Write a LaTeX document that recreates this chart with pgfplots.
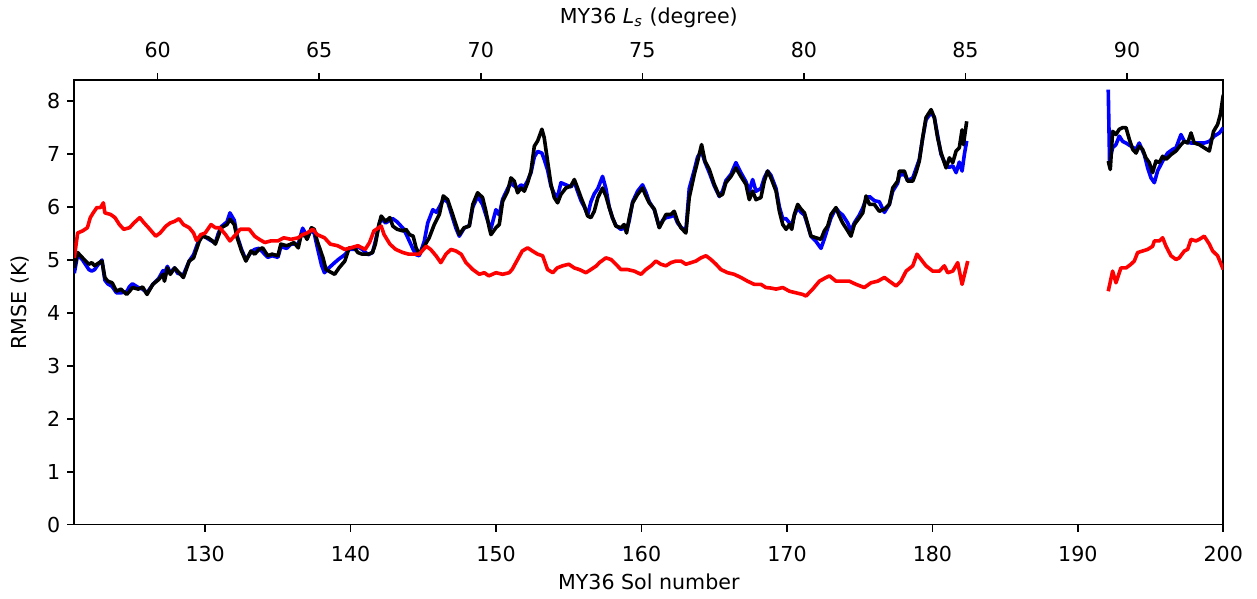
\documentclass[border=0pt]{standalone}
\usepackage{fontspec}
\setmainfont{DejaVu Sans}
\usepackage{pgfplots}
\pgfplotsset{compat=1.18}

\definecolor{rmseblue}{RGB}{0,0,255}
\definecolor{rmsered}{RGB}{255,0,0}

\pgfplotsset{
  rmse/.style={line width=1.8pt, line join=round, mark=none},
  frame/.style={
    at={(0,0)}, anchor=south west,
    scale only axis, width=574.5pt, height=222.35pt,
    ymin=0, ymax=8.4,
    tick align=outside, major tick length=3.5pt,
    axis line style={line width=0.8pt},
    every tick/.style={line width=0.8pt, black},
    tick label style={font=\fontsize{10.3}{12}\selectfont},
    label style={font=\fontsize{10.3}{12}\selectfont},
    /pgf/number format/assume math mode=true,
  },
}

\begin{document}
\begin{tikzpicture}
\begin{axis}[frame,
  xmin=121, xmax=200,
  xtick={130,140,...,200}, ytick={0,1,...,8},
  xtick pos=lower, ytick pos=left,
  xticklabel style={yshift=-3.5pt},
  xlabel={MY36 Sol number}, ylabel={RMSE (K)},
  xlabel style={at={(axis description cs:0.5,0)}, anchor=center, yshift=-28.6pt},
  ylabel style={at={(axis description cs:0,0.5)}, anchor=center, rotate=0, xshift=0pt, yshift=27pt},
]
% blue run, before and after the data gap
\addplot[rmse, rmseblue] coordinates {
(121.0,4.75) (121.23,5.1) (121.57,5.0) (122.0,4.82) (122.2,4.79) (122.4,4.82) (122.6,4.9) (122.9,5.0)
(123.1,4.62) (123.3,4.55) (123.6,4.5) (123.9,4.38) (124.2,4.38) (124.6,4.4) (124.8,4.5) (125.0,4.55)
(125.4,4.48) (125.7,4.45) (126.0,4.38) (126.4,4.54) (126.8,4.65) (127.1,4.8) (127.2,4.75) (127.4,4.88)
(127.6,4.76) (127.9,4.85) (128.1,4.75) (128.5,4.72) (128.9,4.98) (129.2,5.1) (129.6,5.4) (129.8,5.47)
(130.2,5.4) (130.5,5.35) (130.7,5.33) (130.9,5.5) (131.1,5.63) (131.5,5.72) (131.7,5.89) (132.0,5.75)
(132.2,5.45) (132.5,5.2) (132.8,5.0) (133.15,5.15) (133.4,5.2) (133.7,5.22) (133.95,5.15) (134.3,5.05)
(134.6,5.08) (135.0,5.05) (135.2,5.25) (135.6,5.22) (135.9,5.3) (136.1,5.3) (136.4,5.3) (136.6,5.5)
(136.7,5.6) (136.9,5.5) (137.0,5.4) (137.3,5.58) (137.5,5.5) (137.7,5.25) (138.0,4.9) (138.2,4.76)
(138.5,4.85) (138.9,4.95) (139.2,5.02) (139.6,5.1) (139.9,5.2) (140.25,5.2) (140.5,5.25) (140.8,5.2)
(141.2,5.1) (141.5,5.14) (141.7,5.35) (141.95,5.67) (142.1,5.78) (142.4,5.7) (142.7,5.75) (142.9,5.78)
(143.2,5.72) (143.6,5.6) (143.8,5.5) (144.05,5.35) (144.3,5.2) (144.5,5.1) (144.72,5.08) (145.06,5.35)
(145.3,5.7) (145.65,5.95) (145.9,5.9) (146.1,6.0) (146.37,6.14) (146.67,6.1) (147.01,5.8) (147.24,5.6)
(147.47,5.45) (147.8,5.6) (148.16,5.65) (148.4,6.0) (148.73,6.2) (149.07,6.05) (149.3,5.85) (149.53,5.65)
(149.65,5.6) (149.99,5.95) (150.22,5.85) (150.45,6.15) (150.8,6.35) (151.02,6.45) (151.25,6.4) (151.48,6.35)
(151.71,6.42) (151.94,6.38) (152.17,6.5) (152.4,6.65) (152.63,6.95) (152.86,7.05) (153.15,7.02) (153.31,6.9)
(153.54,6.7) (153.77,6.4) (154.0,6.25) (154.23,6.2) (154.46,6.46) (154.8,6.42) (155.15,6.38) (155.38,6.48)
(155.6,6.3) (155.84,6.12) (156.07,6.0) (156.3,5.85) (156.52,6.1) (156.75,6.25) (157.0,6.35) (157.32,6.58)
(157.55,6.35) (157.78,6.0) (158.0,5.8) (158.24,5.65) (158.58,5.58) (158.81,5.6) (158.97,5.55) (159.16,5.75)
(159.39,6.1) (159.73,6.3) (160.07,6.42) (160.3,6.28) (160.53,6.1) (160.88,5.95) (161.22,5.62) (161.45,5.75)
(161.68,5.8) (162.02,5.82) (162.25,5.85) (162.48,5.7) (162.71,5.62) (163.05,5.55) (163.28,6.35) (163.63,6.7)
(163.86,6.95) (164.13,7.05) (164.36,6.85) (164.66,6.65) (165.0,6.4) (165.35,6.2) (165.57,6.3) (165.8,6.5)
(166.15,6.62) (166.49,6.84) (166.83,6.65) (167.18,6.48) (167.41,6.3) (167.64,6.52) (167.87,6.3) (168.21,6.35)
(168.44,6.55) (168.67,6.68) (168.9,6.6) (169.25,6.35) (169.48,6.0) (169.71,5.78) (169.94,5.78) (170.17,5.7)
(170.33,5.65) (170.51,5.85) (170.74,5.98) (170.97,5.9) (171.2,5.85) (171.43,5.65) (171.65,5.45) (172.0,5.35)
(172.34,5.22) (172.57,5.4) (172.8,5.6) (173.03,5.8) (173.37,5.98) (173.6,5.9) (173.83,5.85) (174.18,5.7)
(174.4,5.55) (174.63,5.7) (174.98,5.85) (175.21,5.98) (175.44,6.15) (175.67,6.2) (176.01,6.12) (176.35,6.1)
(176.7,5.9) (177.04,6.05) (177.27,6.3) (177.61,6.45) (177.73,6.6) (178.07,6.62) (178.3,6.5) (178.65,6.55)
(178.87,6.72) (179.1,6.9) (179.33,7.3) (179.56,7.65) (179.91,7.78) (180.13,7.7) (180.36,7.35) (180.59,7.0)
(180.94,6.78) (181.17,6.75) (181.4,6.78) (181.63,6.65) (181.85,6.85) (182.04,6.68) (182.2,7.0) (182.36,7.25)
};
\addplot[rmse, rmseblue] coordinates {
(192.09,8.22) (192.18,6.87) (192.39,7.12) (192.62,7.18) (192.85,7.34) (193.08,7.24) (193.31,7.21) (193.65,7.15)
(194.0,7.09) (194.22,7.21) (194.57,6.99) (194.8,6.74) (195.03,6.55) (195.26,6.46) (195.48,6.68) (195.83,6.87)
(196.17,7.02) (196.52,7.09) (196.75,7.12) (197.09,7.37) (197.32,7.24) (197.78,7.21) (198.24,7.21) (198.69,7.21)
(199.04,7.24) (199.38,7.34) (199.73,7.4) (200.0,7.5)
};
% black run
\addplot[rmse, black] coordinates {
(121.0,4.85) (121.23,5.14) (121.57,5.04) (122.0,4.92) (122.2,4.95) (122.4,4.89) (122.6,4.93) (122.9,4.98)
(123.1,4.67) (123.3,4.6) (123.6,4.57) (123.9,4.41) (124.2,4.45) (124.6,4.35) (124.8,4.41) (125.0,4.48)
(125.4,4.45) (125.7,4.49) (126.0,4.35) (126.4,4.54) (126.8,4.63) (127.1,4.73) (127.2,4.6) (127.4,4.85)
(127.6,4.73) (127.9,4.85) (128.1,4.79) (128.5,4.67) (128.9,4.98) (129.2,5.04) (129.6,5.36) (129.8,5.45)
(130.2,5.42) (130.5,5.36) (130.7,5.3) (130.9,5.45) (131.1,5.61) (131.5,5.67) (131.7,5.77) (132.0,5.67)
(132.2,5.42) (132.5,5.17) (132.8,4.98) (133.15,5.17) (133.4,5.11) (133.7,5.2) (133.95,5.23) (134.3,5.08)
(134.6,5.11) (135.0,5.08) (135.2,5.3) (135.6,5.27) (135.9,5.3) (136.1,5.33) (136.4,5.23) (136.6,5.48)
(136.9,5.45) (137.0,5.39) (137.3,5.61) (137.5,5.58) (137.7,5.36) (138.1,5.04) (138.3,4.82) (138.5,4.79)
(138.9,4.73) (139.2,4.85) (139.6,4.98) (139.9,5.23) (140.25,5.23) (140.5,5.14) (140.8,5.11) (141.2,5.11)
(141.5,5.14) (141.7,5.3) (141.95,5.67) (142.1,5.83) (142.4,5.73) (142.7,5.8) (142.9,5.64) (143.2,5.58)
(143.6,5.55) (143.8,5.58) (144.05,5.48) (144.3,5.45) (144.5,5.23) (144.72,5.11) (145.06,5.26) (145.4,5.42)
(145.75,5.67) (146.1,5.86) (146.37,6.21) (146.67,6.14) (147.01,5.86) (147.24,5.67) (147.47,5.48) (147.8,5.61)
(148.16,5.64) (148.4,6.05) (148.73,6.27) (149.07,6.18) (149.3,5.92) (149.53,5.61) (149.65,5.48) (149.99,5.61)
(150.22,5.67) (150.45,6.11) (150.8,6.3) (151.02,6.55) (151.25,6.49) (151.48,6.27) (151.71,6.36) (151.94,6.3)
(152.17,6.46) (152.4,6.68) (152.63,7.15) (152.86,7.25) (153.15,7.47) (153.31,7.31) (153.54,6.87) (153.77,6.43)
(154.0,6.18) (154.23,6.08) (154.46,6.24) (154.8,6.36) (155.15,6.4) (155.38,6.52) (155.6,6.36) (155.84,6.18)
(156.07,6.02) (156.3,5.83) (156.52,5.8) (156.75,5.92) (157.0,6.18) (157.32,6.36) (157.55,6.21) (157.78,5.99)
(158.0,5.8) (158.24,5.64) (158.58,5.61) (158.81,5.67) (158.97,5.51) (159.16,5.8) (159.39,6.08) (159.73,6.24)
(160.07,6.36) (160.3,6.21) (160.53,6.08) (160.88,5.96) (161.22,5.61) (161.45,5.73) (161.68,5.86) (162.02,5.86)
(162.25,5.92) (162.48,5.73) (162.71,5.61) (163.05,5.51) (163.28,6.18) (163.63,6.62) (163.86,6.87) (164.13,7.18)
(164.36,6.87) (164.66,6.71) (165.0,6.43) (165.35,6.21) (165.57,6.24) (165.8,6.46) (166.15,6.58) (166.49,6.74)
(166.83,6.58) (167.18,6.43) (167.41,6.14) (167.64,6.3) (167.87,6.14) (168.21,6.18) (168.44,6.49) (168.67,6.68)
(168.9,6.55) (169.25,6.3) (169.48,5.92) (169.71,5.67) (169.94,5.58) (170.17,5.67) (170.33,5.58) (170.51,5.86)
(170.74,6.05) (170.97,5.96) (171.2,5.89) (171.43,5.67) (171.65,5.45) (172.0,5.42) (172.34,5.39) (172.57,5.55)
(172.8,5.64) (173.03,5.86) (173.37,5.99) (173.6,5.83) (173.83,5.7) (174.18,5.55) (174.4,5.45) (174.63,5.67)
(174.98,5.8) (175.21,5.89) (175.44,6.21) (175.67,6.05) (176.01,6.05) (176.35,5.92) (176.7,5.96) (177.04,6.05)
(177.27,6.36) (177.61,6.49) (177.73,6.68) (178.07,6.68) (178.3,6.49) (178.65,6.49) (178.87,6.65) (179.1,6.87)
(179.33,7.31) (179.56,7.69) (179.91,7.84) (180.13,7.69) (180.36,7.31) (180.59,7.03) (180.94,6.74) (181.17,6.93)
(181.4,6.84) (181.63,7.06) (181.85,7.12) (182.04,7.46) (182.13,7.18) (182.36,7.62)
};
\addplot[rmse, black] coordinates {
(192.09,6.87) (192.23,6.71) (192.39,7.43) (192.62,7.37) (192.85,7.47) (193.08,7.5) (193.31,7.5) (193.54,7.28)
(193.77,7.09) (194.0,7.02) (194.22,7.15) (194.45,7.09) (194.68,6.93) (194.91,6.84) (195.14,6.65) (195.37,6.87)
(195.6,6.84) (195.83,6.96) (196.06,6.9) (196.4,6.99) (196.75,7.06) (197.09,7.18) (197.32,7.24) (197.55,7.21)
(197.78,7.4) (198.0,7.21) (198.35,7.18) (198.69,7.12) (199.04,7.06) (199.33,7.43) (199.61,7.56) (199.8,7.75)
(200.0,8.12)
};
% red run
\addplot[rmse, rmsered] coordinates {
(121.0,5.04) (121.23,5.51) (121.57,5.55) (121.9,5.61) (122.1,5.8) (122.3,5.89) (122.55,5.99) (122.8,5.99)
(123.0,6.08) (123.1,5.89) (123.5,5.86) (123.8,5.8) (124.1,5.67) (124.4,5.58) (124.8,5.61) (125.1,5.7)
(125.5,5.8) (125.8,5.7) (126.1,5.61) (126.6,5.45) (126.9,5.51) (127.3,5.64) (127.6,5.7) (127.9,5.73)
(128.2,5.78) (128.5,5.67) (128.9,5.61) (129.2,5.51) (129.4,5.37) (129.7,5.48) (130.0,5.51) (130.4,5.67)
(130.7,5.61) (131.0,5.61) (131.4,5.48) (131.7,5.36) (132.1,5.48) (132.4,5.58) (132.69,5.58) (133.03,5.58)
(133.4,5.45) (133.72,5.39) (134.1,5.33) (134.5,5.36) (135.0,5.36) (135.4,5.42) (135.9,5.39) (136.4,5.42)
(136.7,5.48) (137.0,5.51) (137.4,5.58) (137.7,5.48) (138.2,5.42) (138.6,5.3) (139.1,5.27) (139.6,5.2)
(140.0,5.23) (140.5,5.27) (141.0,5.2) (141.3,5.33) (141.6,5.55) (142.1,5.64) (142.3,5.48) (142.7,5.3)
(143.1,5.2) (143.6,5.14) (144.0,5.11) (144.4,5.11) (144.72,5.11) (145.2,5.26) (145.5,5.2) (145.87,5.08)
(146.2,4.95) (146.55,5.11) (146.9,5.2) (147.24,5.17) (147.6,5.11) (147.93,4.95) (148.4,4.82) (148.85,4.73)
(149.19,4.76) (149.5,4.7) (149.99,4.76) (150.45,4.73) (150.9,4.76) (151.1,4.82) (151.48,5.01) (151.8,5.17)
(152.17,5.23) (152.5,5.17) (152.86,5.11) (153.2,5.08) (153.54,4.82) (153.9,4.76) (154.2,4.85) (154.57,4.89)
(155.0,4.92) (155.38,4.85) (155.72,4.82) (156.18,4.76) (156.52,4.82) (156.9,4.89) (157.1,4.95) (157.55,5.04)
(157.9,5.01) (158.24,4.92) (158.58,4.82) (159.04,4.82) (159.5,4.79) (159.96,4.73) (160.3,4.82) (160.65,4.89)
(160.99,4.98) (161.33,4.92) (161.68,4.89) (162.02,4.95) (162.37,4.98) (162.71,4.98) (163.05,4.92) (163.4,4.95)
(163.74,4.98) (164.08,5.04) (164.43,5.08) (164.77,5.01) (165.12,4.92) (165.46,4.82) (165.92,4.76) (166.37,4.73)
(166.83,4.67) (167.29,4.6) (167.75,4.54) (168.21,4.54) (168.55,4.48) (168.9,4.47) (169.25,4.45) (169.71,4.48)
(170.17,4.41) (170.62,4.38) (171.08,4.35) (171.31,4.32) (171.77,4.45) (172.23,4.6) (172.69,4.67) (172.92,4.7)
(173.37,4.6) (173.83,4.6) (174.29,4.6) (174.75,4.54) (175.32,4.48) (175.78,4.57) (176.24,4.6) (176.7,4.67)
(177.04,4.6) (177.5,4.51) (177.84,4.6) (178.19,4.79) (178.65,4.89) (178.94,5.11) (179.22,5.01) (179.56,4.89)
(180.02,4.79) (180.48,4.79) (180.82,4.89) (181.05,4.76) (181.4,4.79) (181.74,4.95) (182.04,4.54) (182.43,4.98)
};
\addplot[rmse, rmsered] coordinates {
(192.09,4.41) (192.39,4.79) (192.62,4.57) (192.96,4.85) (193.31,4.85) (193.65,4.92) (193.88,4.98) (194.11,5.14)
(194.45,5.17) (194.8,5.2) (195.14,5.26) (195.26,5.36) (195.6,5.36) (195.83,5.42) (196.06,5.26) (196.4,5.08)
(196.75,5.01) (196.97,5.04) (197.32,5.17) (197.55,5.2) (197.78,5.39) (198.12,5.36) (198.35,5.39) (198.69,5.45)
(199.04,5.3) (199.27,5.17) (199.61,5.08) (200.0,4.82)
};
\end{axis}
% solar longitude scale along the top edge
\begin{axis}[frame,
  xmin=57.42, xmax=92.98,
  axis x line*=top, axis y line=none,
  xtick={60,65,...,90},
  xticklabel style={yshift=4pt},
  xlabel={MY36 \textit{L}\textsubscript{\textit{s}} (degree)},
  xlabel style={at={(axis description cs:0.5,1)}, anchor=center, yshift=31pt},
]
\end{axis}
\pgfresetboundingbox
\path (-37.15pt,-37.15pt) rectangle (591.35pt,262.35pt);
\end{tikzpicture}
\end{document}
